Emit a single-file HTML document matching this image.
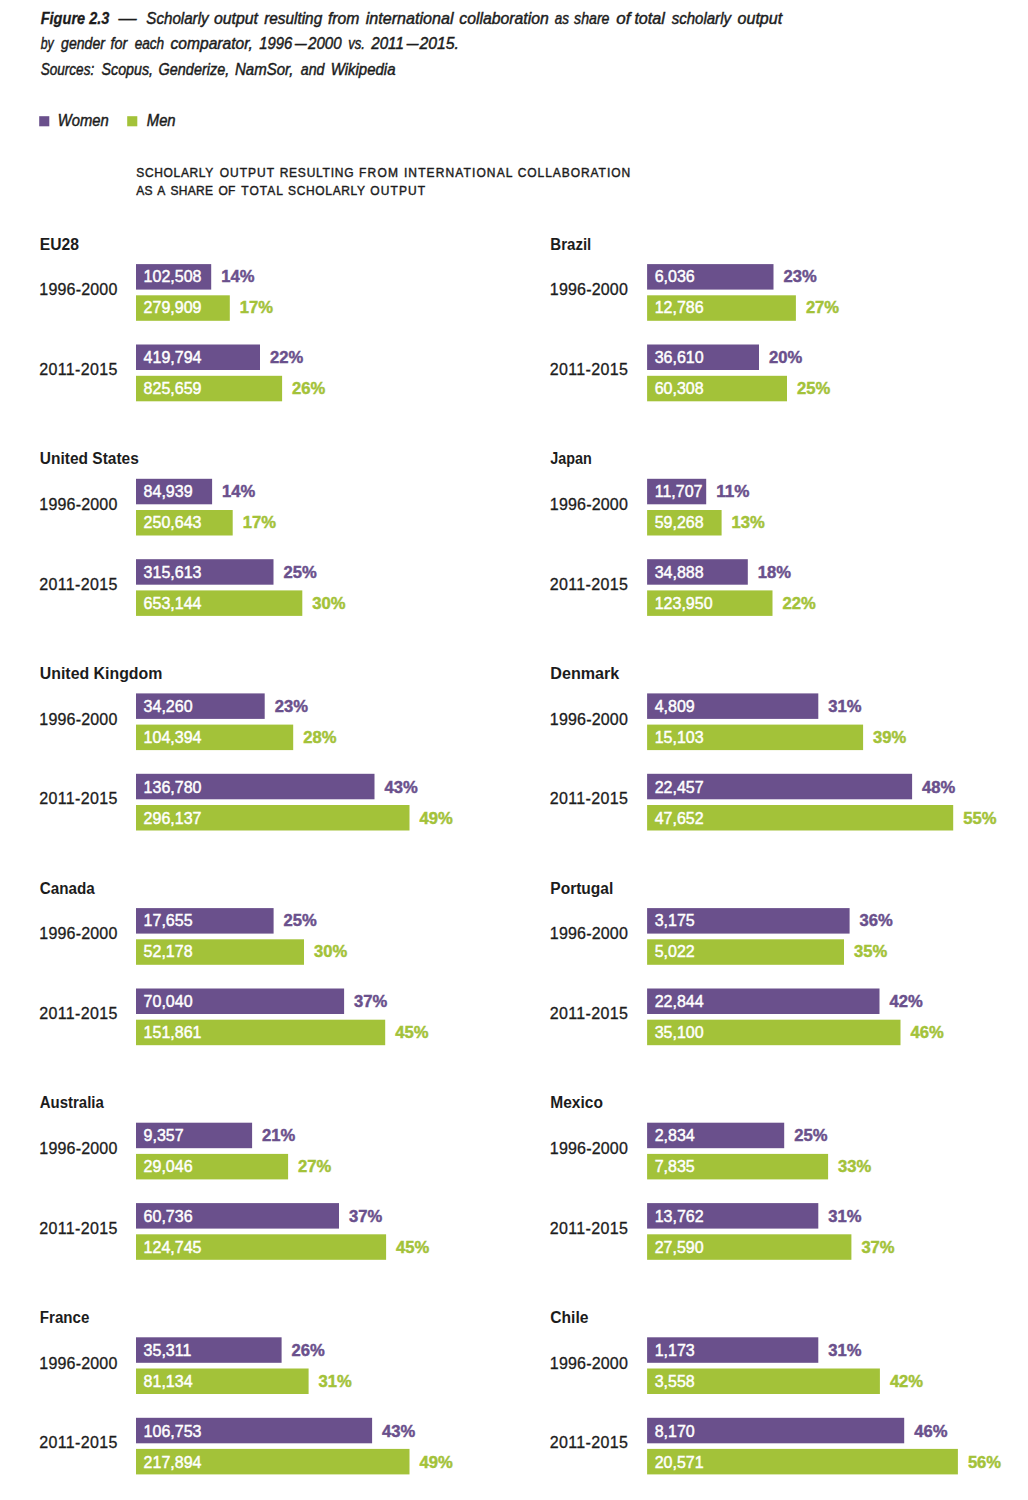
<!DOCTYPE html>
<html lang="en"><head><meta charset="utf-8"><title>Figure 2.3</title>
<style>
html,body{margin:0;padding:0;background:#fff}
svg{display:block}
text{font-family:"Liberation Sans",Arial,Helvetica,sans-serif;font-size:16px;fill:#1c1c1c}
.cap{font-style:italic;font-size:15.8px;stroke:#1c1c1c;stroke-width:.45px}
.capb{font-style:italic;font-weight:bold;font-size:15.8px;stroke:#1c1c1c;stroke-width:.3px}
.sub{font-size:12px;fill:#1c1c1c;stroke:#1c1c1c;stroke-width:.4px}
.ttl{font-weight:bold}
.lab{stroke:#1c1c1c;stroke-width:.3px}
.val{fill:#fff;stroke:#fff;stroke-width:.45px}
.pw{font-weight:bold;fill:#6a508c;stroke:#6a508c;stroke-width:.45px}
.pm{font-weight:bold;fill:#a3c239;stroke:#a3c239;stroke-width:.45px}
.bw{fill:#6a508c}
.bm{fill:#a3c239}
</style></head><body>
<svg width="1028" height="1500" viewBox="0 0 1028 1500">
<rect x="0" y="0" width="1028" height="1500" fill="#fff"/>
<text class="cap" y="23.5"><tspan class="capb" x="40.7" textLength="68.7" lengthAdjust="spacingAndGlyphs">Figure 2.3</tspan> <tspan x="118.5" textLength="18.1" lengthAdjust="spacingAndGlyphs">—</tspan> <tspan x="146.3" textLength="62.3" lengthAdjust="spacingAndGlyphs">Scholarly</tspan> <tspan x="214.0" textLength="44.0" lengthAdjust="spacingAndGlyphs">output</tspan> <tspan x="264.2" textLength="58.0" lengthAdjust="spacingAndGlyphs">resulting</tspan> <tspan x="328.0" textLength="31.5" lengthAdjust="spacingAndGlyphs">from</tspan> <tspan x="365.8" textLength="87.7" lengthAdjust="spacingAndGlyphs">international</tspan> <tspan x="459.3" textLength="89.5" lengthAdjust="spacingAndGlyphs">collaboration</tspan> <tspan x="554.7" textLength="14.2" lengthAdjust="spacingAndGlyphs">as</tspan> <tspan x="574.1" textLength="35.4" lengthAdjust="spacingAndGlyphs">share</tspan> <tspan x="616.3" textLength="14.2" lengthAdjust="spacingAndGlyphs">of</tspan> <tspan x="634.4" textLength="30.5" lengthAdjust="spacingAndGlyphs">total</tspan> <tspan x="671.7" textLength="59.3" lengthAdjust="spacingAndGlyphs">scholarly</tspan> <tspan x="737.5" textLength="44.7" lengthAdjust="spacingAndGlyphs">output</tspan></text>
<text class="cap" y="48.9"><tspan x="40.7" textLength="13.0" lengthAdjust="spacingAndGlyphs">by</tspan> <tspan x="61.1" textLength="43.8" lengthAdjust="spacingAndGlyphs">gender</tspan> <tspan x="110.5" textLength="16.8" lengthAdjust="spacingAndGlyphs">for</tspan> <tspan x="134.7" textLength="29.5" lengthAdjust="spacingAndGlyphs">each</tspan> <tspan x="170.5" textLength="82.4" lengthAdjust="spacingAndGlyphs">comparator,</tspan> <tspan class="cap" x="259.3" textLength="33.1" lengthAdjust="spacingAndGlyphs">1996</tspan><tspan class="cap" x="295.0" textLength="11.6" lengthAdjust="spacingAndGlyphs">–</tspan><tspan x="308.0" textLength="33.6" lengthAdjust="spacingAndGlyphs">2000</tspan> <tspan x="348.2" textLength="16.8" lengthAdjust="spacingAndGlyphs">vs.</tspan> <tspan class="cap" x="371.2" textLength="32.7" lengthAdjust="spacingAndGlyphs">2011</tspan><tspan class="cap" x="406.8" textLength="11.7" lengthAdjust="spacingAndGlyphs">–</tspan><tspan x="419.5" textLength="39.5" lengthAdjust="spacingAndGlyphs">2015.</tspan></text>
<text class="cap" y="74.6"><tspan x="40.7" textLength="53.5" lengthAdjust="spacingAndGlyphs">Sources:</tspan> <tspan x="101.5" textLength="51.5" lengthAdjust="spacingAndGlyphs">Scopus,</tspan> <tspan x="158.6" textLength="70.6" lengthAdjust="spacingAndGlyphs">Genderize,</tspan> <tspan x="235.0" textLength="58.4" lengthAdjust="spacingAndGlyphs">NamSor,</tspan> <tspan x="300.8" textLength="23.7" lengthAdjust="spacingAndGlyphs">and</tspan> <tspan x="330.7" textLength="64.8" lengthAdjust="spacingAndGlyphs">Wikipedia</tspan></text>
<rect class="bw" x="39.2" y="116.2" width="10.1" height="10.1"/>
<text class="cap" x="57.7" y="126.2" textLength="51" lengthAdjust="spacingAndGlyphs">Women</text>
<rect class="bm" x="127.2" y="116.2" width="10.1" height="10.1"/>
<text class="cap" x="146.8" y="126.2" textLength="28.8" lengthAdjust="spacingAndGlyphs">Men</text>
<text class="sub" y="177.3"><tspan x="136.3" textLength="76.8" lengthAdjust="spacing">SCHOLARLY</tspan> <tspan x="219.8" textLength="54.0" lengthAdjust="spacing">OUTPUT</tspan> <tspan x="279.7" textLength="73.8" lengthAdjust="spacing">RESULTING</tspan> <tspan x="358.9" textLength="39.2" lengthAdjust="spacing">FROM</tspan> <tspan x="403.9" textLength="108.1" lengthAdjust="spacing">INTERNATIONAL</tspan> <tspan x="517.7" textLength="112.4" lengthAdjust="spacing">COLLABORATION</tspan></text>
<text class="sub" y="195.2"><tspan x="136.3" textLength="16.1" lengthAdjust="spacing">AS</tspan> <tspan x="157.3" textLength="7.7" lengthAdjust="spacing">A</tspan> <tspan x="170.5" textLength="42.6" lengthAdjust="spacing">SHARE</tspan> <tspan x="218.5" textLength="16.9" lengthAdjust="spacing">OF</tspan> <tspan x="241.3" textLength="41.3" lengthAdjust="spacing">TOTAL</tspan> <tspan x="288.1" textLength="76.7" lengthAdjust="spacing">SCHOLARLY</tspan> <tspan x="370.3" textLength="54.9" lengthAdjust="spacing">OUTPUT</tspan></text>
<g>
<text class="ttl" x="39.8" y="249.5" textLength="39.2" lengthAdjust="spacingAndGlyphs">EU28</text>
<text class="lab" x="39.3" y="295.0" textLength="78.0" lengthAdjust="spacing">1996-2000</text>
<text class="lab" x="39.3" y="375.0" textLength="78.0" lengthAdjust="spacing">2011-2015</text>
<rect class="bw" x="136.0" y="264.1" width="75.2" height="25.5"/>
<text class="val" x="143.6" y="282.0">102,508</text>
<text class="pw" x="221.2" y="282.0" textLength="33.2" lengthAdjust="spacingAndGlyphs">14%</text>
<rect class="bm" x="136.0" y="295.3" width="93.8" height="25.5"/>
<text class="val" x="143.6" y="313.0">279,909</text>
<text class="pm" x="239.8" y="313.0" textLength="33.2" lengthAdjust="spacingAndGlyphs">17%</text>
<rect class="bw" x="136.0" y="344.5" width="124.0" height="25.5"/>
<text class="val" x="143.6" y="363.0">419,794</text>
<text class="pw" x="270.0" y="363.0" textLength="33.2" lengthAdjust="spacingAndGlyphs">22%</text>
<rect class="bm" x="136.0" y="375.8" width="146.1" height="25.5"/>
<text class="val" x="143.6" y="394.0">825,659</text>
<text class="pm" x="292.1" y="394.0" textLength="33.2" lengthAdjust="spacingAndGlyphs">26%</text>
</g>
<g>
<text class="ttl" x="39.8" y="464.2" textLength="99.0" lengthAdjust="spacingAndGlyphs">United States</text>
<text class="lab" x="39.3" y="510.0" textLength="78.0" lengthAdjust="spacing">1996-2000</text>
<text class="lab" x="39.3" y="590.0" textLength="78.0" lengthAdjust="spacing">2011-2015</text>
<rect class="bw" x="136.0" y="478.8" width="76.1" height="25.5"/>
<text class="val" x="143.6" y="497.0">84,939</text>
<text class="pw" x="222.1" y="497.0" textLength="33.2" lengthAdjust="spacingAndGlyphs">14%</text>
<rect class="bm" x="136.0" y="510.0" width="96.7" height="25.5"/>
<text class="val" x="143.6" y="528.0">250,643</text>
<text class="pm" x="242.7" y="528.0" textLength="33.2" lengthAdjust="spacingAndGlyphs">17%</text>
<rect class="bw" x="136.0" y="559.2" width="137.5" height="25.5"/>
<text class="val" x="143.6" y="578.0">315,613</text>
<text class="pw" x="283.5" y="578.0" textLength="33.2" lengthAdjust="spacingAndGlyphs">25%</text>
<rect class="bm" x="136.0" y="590.4" width="166.3" height="25.5"/>
<text class="val" x="143.6" y="609.0">653,144</text>
<text class="pm" x="312.3" y="609.0" textLength="33.2" lengthAdjust="spacingAndGlyphs">30%</text>
</g>
<g>
<text class="ttl" x="39.8" y="678.8" textLength="122.6" lengthAdjust="spacingAndGlyphs">United Kingdom</text>
<text class="lab" x="39.3" y="725.0" textLength="78.0" lengthAdjust="spacing">1996-2000</text>
<text class="lab" x="39.3" y="804.0" textLength="78.0" lengthAdjust="spacing">2011-2015</text>
<rect class="bw" x="136.0" y="693.4" width="128.7" height="25.5"/>
<text class="val" x="143.6" y="712.0">34,260</text>
<text class="pw" x="274.7" y="712.0" textLength="33.2" lengthAdjust="spacingAndGlyphs">23%</text>
<rect class="bm" x="136.0" y="724.6" width="157.2" height="25.5"/>
<text class="val" x="143.6" y="743.0">104,394</text>
<text class="pm" x="303.2" y="743.0" textLength="33.2" lengthAdjust="spacingAndGlyphs">28%</text>
<rect class="bw" x="136.0" y="773.8" width="238.5" height="25.5"/>
<text class="val" x="143.6" y="793.0">136,780</text>
<text class="pw" x="384.5" y="793.0" textLength="33.2" lengthAdjust="spacingAndGlyphs">43%</text>
<rect class="bm" x="136.0" y="805.0" width="273.5" height="25.5"/>
<text class="val" x="143.6" y="824.0">296,137</text>
<text class="pm" x="419.5" y="824.0" textLength="33.2" lengthAdjust="spacingAndGlyphs">49%</text>
</g>
<g>
<text class="ttl" x="39.8" y="893.5" textLength="55.0" lengthAdjust="spacingAndGlyphs">Canada</text>
<text class="lab" x="39.3" y="939.0" textLength="78.0" lengthAdjust="spacing">1996-2000</text>
<text class="lab" x="39.3" y="1019.0" textLength="78.0" lengthAdjust="spacing">2011-2015</text>
<rect class="bw" x="136.0" y="908.1" width="137.6" height="25.5"/>
<text class="val" x="143.6" y="926.0">17,655</text>
<text class="pw" x="283.6" y="926.0" textLength="33.2" lengthAdjust="spacingAndGlyphs">25%</text>
<rect class="bm" x="136.0" y="939.3" width="168.0" height="25.5"/>
<text class="val" x="143.6" y="957.0">52,178</text>
<text class="pm" x="314.0" y="957.0" textLength="33.2" lengthAdjust="spacingAndGlyphs">30%</text>
<rect class="bw" x="136.0" y="988.5" width="208.1" height="25.5"/>
<text class="val" x="143.6" y="1007.0">70,040</text>
<text class="pw" x="354.1" y="1007.0" textLength="33.2" lengthAdjust="spacingAndGlyphs">37%</text>
<rect class="bm" x="136.0" y="1019.7" width="249.2" height="25.5"/>
<text class="val" x="143.6" y="1038.0">151,861</text>
<text class="pm" x="395.2" y="1038.0" textLength="33.2" lengthAdjust="spacingAndGlyphs">45%</text>
</g>
<g>
<text class="ttl" x="39.8" y="1108.1" textLength="64.0" lengthAdjust="spacingAndGlyphs">Australia</text>
<text class="lab" x="39.3" y="1154.0" textLength="78.0" lengthAdjust="spacing">1996-2000</text>
<text class="lab" x="39.3" y="1234.0" textLength="78.0" lengthAdjust="spacing">2011-2015</text>
<rect class="bw" x="136.0" y="1122.7" width="116.1" height="25.5"/>
<text class="val" x="143.6" y="1141.0">9,357</text>
<text class="pw" x="262.1" y="1141.0" textLength="33.2" lengthAdjust="spacingAndGlyphs">21%</text>
<rect class="bm" x="136.0" y="1153.9" width="152.1" height="25.5"/>
<text class="val" x="143.6" y="1172.0">29,046</text>
<text class="pm" x="298.1" y="1172.0" textLength="33.2" lengthAdjust="spacingAndGlyphs">27%</text>
<rect class="bw" x="136.0" y="1203.1" width="203.0" height="25.5"/>
<text class="val" x="143.6" y="1222.0">60,736</text>
<text class="pw" x="349.0" y="1222.0" textLength="33.2" lengthAdjust="spacingAndGlyphs">37%</text>
<rect class="bm" x="136.0" y="1234.3" width="250.1" height="25.5"/>
<text class="val" x="143.6" y="1253.0">124,745</text>
<text class="pm" x="396.1" y="1253.0" textLength="33.2" lengthAdjust="spacingAndGlyphs">45%</text>
</g>
<g>
<text class="ttl" x="39.8" y="1322.8" textLength="49.5" lengthAdjust="spacingAndGlyphs">France</text>
<text class="lab" x="39.3" y="1369.0" textLength="78.0" lengthAdjust="spacing">1996-2000</text>
<text class="lab" x="39.3" y="1448.0" textLength="78.0" lengthAdjust="spacing">2011-2015</text>
<rect class="bw" x="136.0" y="1337.3" width="145.6" height="25.5"/>
<text class="val" x="143.6" y="1356.0">35,311</text>
<text class="pw" x="291.6" y="1356.0" textLength="33.2" lengthAdjust="spacingAndGlyphs">26%</text>
<rect class="bm" x="136.0" y="1368.5" width="172.6" height="25.5"/>
<text class="val" x="143.6" y="1387.0">81,134</text>
<text class="pm" x="318.6" y="1387.0" textLength="33.2" lengthAdjust="spacingAndGlyphs">31%</text>
<rect class="bw" x="136.0" y="1417.8" width="236.1" height="25.5"/>
<text class="val" x="143.6" y="1437.0">106,753</text>
<text class="pw" x="382.1" y="1437.0" textLength="33.2" lengthAdjust="spacingAndGlyphs">43%</text>
<rect class="bm" x="136.0" y="1448.9" width="273.5" height="25.5"/>
<text class="val" x="143.6" y="1468.0">217,894</text>
<text class="pm" x="419.5" y="1468.0" textLength="33.2" lengthAdjust="spacingAndGlyphs">49%</text>
</g>
<g>
<text class="ttl" x="550.3" y="249.5" textLength="41.0" lengthAdjust="spacingAndGlyphs">Brazil</text>
<text class="lab" x="549.8" y="295.0" textLength="78.0" lengthAdjust="spacing">1996-2000</text>
<text class="lab" x="549.8" y="375.0" textLength="78.0" lengthAdjust="spacing">2011-2015</text>
<rect class="bw" x="647.1" y="264.1" width="126.4" height="25.5"/>
<text class="val" x="654.7" y="282.0">6,036</text>
<text class="pw" x="783.5" y="282.0" textLength="33.2" lengthAdjust="spacingAndGlyphs">23%</text>
<rect class="bm" x="647.1" y="295.3" width="148.8" height="25.5"/>
<text class="val" x="654.7" y="313.0">12,786</text>
<text class="pm" x="805.9" y="313.0" textLength="33.2" lengthAdjust="spacingAndGlyphs">27%</text>
<rect class="bw" x="647.1" y="344.5" width="111.9" height="25.5"/>
<text class="val" x="654.7" y="363.0">36,610</text>
<text class="pw" x="769.0" y="363.0" textLength="33.2" lengthAdjust="spacingAndGlyphs">20%</text>
<rect class="bm" x="647.1" y="375.8" width="139.9" height="25.5"/>
<text class="val" x="654.7" y="394.0">60,308</text>
<text class="pm" x="797.0" y="394.0" textLength="33.2" lengthAdjust="spacingAndGlyphs">25%</text>
</g>
<g>
<text class="ttl" x="550.3" y="464.2" textLength="41.5" lengthAdjust="spacingAndGlyphs">Japan</text>
<text class="lab" x="549.8" y="510.0" textLength="78.0" lengthAdjust="spacing">1996-2000</text>
<text class="lab" x="549.8" y="590.0" textLength="78.0" lengthAdjust="spacing">2011-2015</text>
<rect class="bw" x="647.1" y="478.8" width="59.1" height="25.5"/>
<text class="val" x="654.7" y="497.0">11,707</text>
<text class="pw" x="716.2" y="497.0" textLength="33.2" lengthAdjust="spacingAndGlyphs">11%</text>
<rect class="bm" x="647.1" y="510.0" width="74.5" height="25.5"/>
<text class="val" x="654.7" y="528.0">59,268</text>
<text class="pm" x="731.6" y="528.0" textLength="33.2" lengthAdjust="spacingAndGlyphs">13%</text>
<rect class="bw" x="647.1" y="559.2" width="100.7" height="25.5"/>
<text class="val" x="654.7" y="578.0">34,888</text>
<text class="pw" x="757.8" y="578.0" textLength="33.2" lengthAdjust="spacingAndGlyphs">18%</text>
<rect class="bm" x="647.1" y="590.4" width="125.4" height="25.5"/>
<text class="val" x="654.7" y="609.0">123,950</text>
<text class="pm" x="782.5" y="609.0" textLength="33.2" lengthAdjust="spacingAndGlyphs">22%</text>
</g>
<g>
<text class="ttl" x="550.3" y="678.8" textLength="69.0" lengthAdjust="spacingAndGlyphs">Denmark</text>
<text class="lab" x="549.8" y="725.0" textLength="78.0" lengthAdjust="spacing">1996-2000</text>
<text class="lab" x="549.8" y="804.0" textLength="78.0" lengthAdjust="spacing">2011-2015</text>
<rect class="bw" x="647.1" y="693.4" width="171.2" height="25.5"/>
<text class="val" x="654.7" y="712.0">4,809</text>
<text class="pw" x="828.3" y="712.0" textLength="33.2" lengthAdjust="spacingAndGlyphs">31%</text>
<rect class="bm" x="647.1" y="724.6" width="216.0" height="25.5"/>
<text class="val" x="654.7" y="743.0">15,103</text>
<text class="pm" x="873.1" y="743.0" textLength="33.2" lengthAdjust="spacingAndGlyphs">39%</text>
<rect class="bw" x="647.1" y="773.8" width="265.0" height="25.5"/>
<text class="val" x="654.7" y="793.0">22,457</text>
<text class="pw" x="922.1" y="793.0" textLength="33.2" lengthAdjust="spacingAndGlyphs">48%</text>
<rect class="bm" x="647.1" y="805.0" width="306.1" height="25.5"/>
<text class="val" x="654.7" y="824.0">47,652</text>
<text class="pm" x="963.2" y="824.0" textLength="33.2" lengthAdjust="spacingAndGlyphs">55%</text>
</g>
<g>
<text class="ttl" x="550.3" y="893.5" textLength="63.0" lengthAdjust="spacingAndGlyphs">Portugal</text>
<text class="lab" x="549.8" y="939.0" textLength="78.0" lengthAdjust="spacing">1996-2000</text>
<text class="lab" x="549.8" y="1019.0" textLength="78.0" lengthAdjust="spacing">2011-2015</text>
<rect class="bw" x="647.1" y="908.1" width="202.5" height="25.5"/>
<text class="val" x="654.7" y="926.0">3,175</text>
<text class="pw" x="859.6" y="926.0" textLength="33.2" lengthAdjust="spacingAndGlyphs">36%</text>
<rect class="bm" x="647.1" y="939.3" width="196.9" height="25.5"/>
<text class="val" x="654.7" y="957.0">5,022</text>
<text class="pm" x="854.0" y="957.0" textLength="33.2" lengthAdjust="spacingAndGlyphs">35%</text>
<rect class="bw" x="647.1" y="988.5" width="232.4" height="25.5"/>
<text class="val" x="654.7" y="1007.0">22,844</text>
<text class="pw" x="889.5" y="1007.0" textLength="33.2" lengthAdjust="spacingAndGlyphs">42%</text>
<rect class="bm" x="647.1" y="1019.7" width="253.4" height="25.5"/>
<text class="val" x="654.7" y="1038.0">35,100</text>
<text class="pm" x="910.5" y="1038.0" textLength="33.2" lengthAdjust="spacingAndGlyphs">46%</text>
</g>
<g>
<text class="ttl" x="550.3" y="1108.1" textLength="52.6" lengthAdjust="spacingAndGlyphs">Mexico</text>
<text class="lab" x="549.8" y="1154.0" textLength="78.0" lengthAdjust="spacing">1996-2000</text>
<text class="lab" x="549.8" y="1234.0" textLength="78.0" lengthAdjust="spacing">2011-2015</text>
<rect class="bw" x="647.1" y="1122.7" width="137.1" height="25.5"/>
<text class="val" x="654.7" y="1141.0">2,834</text>
<text class="pw" x="794.2" y="1141.0" textLength="33.2" lengthAdjust="spacingAndGlyphs">25%</text>
<rect class="bm" x="647.1" y="1153.9" width="181.0" height="25.5"/>
<text class="val" x="654.7" y="1172.0">7,835</text>
<text class="pm" x="838.1" y="1172.0" textLength="33.2" lengthAdjust="spacingAndGlyphs">33%</text>
<rect class="bw" x="647.1" y="1203.1" width="171.2" height="25.5"/>
<text class="val" x="654.7" y="1222.0">13,762</text>
<text class="pw" x="828.3" y="1222.0" textLength="33.2" lengthAdjust="spacingAndGlyphs">31%</text>
<rect class="bm" x="647.1" y="1234.3" width="204.3" height="25.5"/>
<text class="val" x="654.7" y="1253.0">27,590</text>
<text class="pm" x="861.4" y="1253.0" textLength="33.2" lengthAdjust="spacingAndGlyphs">37%</text>
</g>
<g>
<text class="ttl" x="550.3" y="1322.8" textLength="38.2" lengthAdjust="spacingAndGlyphs">Chile</text>
<text class="lab" x="549.8" y="1369.0" textLength="78.0" lengthAdjust="spacing">1996-2000</text>
<text class="lab" x="549.8" y="1448.0" textLength="78.0" lengthAdjust="spacing">2011-2015</text>
<rect class="bw" x="647.1" y="1337.3" width="171.2" height="25.5"/>
<text class="val" x="654.7" y="1356.0">1,173</text>
<text class="pw" x="828.3" y="1356.0" textLength="33.2" lengthAdjust="spacingAndGlyphs">31%</text>
<rect class="bm" x="647.1" y="1368.5" width="232.8" height="25.5"/>
<text class="val" x="654.7" y="1387.0">3,558</text>
<text class="pm" x="889.9" y="1387.0" textLength="33.2" lengthAdjust="spacingAndGlyphs">42%</text>
<rect class="bw" x="647.1" y="1417.8" width="257.1" height="25.5"/>
<text class="val" x="654.7" y="1437.0">8,170</text>
<text class="pw" x="914.2" y="1437.0" textLength="33.2" lengthAdjust="spacingAndGlyphs">46%</text>
<rect class="bm" x="647.1" y="1448.9" width="310.8" height="25.5"/>
<text class="val" x="654.7" y="1468.0">20,571</text>
<text class="pm" x="967.9" y="1468.0" textLength="33.2" lengthAdjust="spacingAndGlyphs">56%</text>
</g>
</svg></body></html>
